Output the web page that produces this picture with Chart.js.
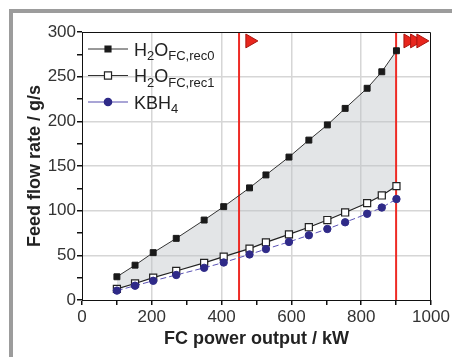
<!DOCTYPE html>
<html>
<head>
<meta charset="utf-8">
<script src="https://cdn.jsdelivr.net/npm/chart.js@4.4.1/dist/chart.umd.min.js"></script>
<style>
  html, body { margin: 0; padding: 0; background: #fff; }
  #wrap { position: relative; width: 452px; height: 357px; overflow: hidden; }
  #frame { position: absolute; left: 9px; top: 9px; width: 460px; height: 400px;
           border-left: 4px solid #9c9c9c; border-top: 4px solid #9c9c9c; }
  canvas { position: absolute; left: 0; top: 0; }
</style>
</head>
<body>
<div id="wrap">
  <div id="frame"></div>
  <canvas id="flowChart" width="452" height="357"></canvas>
</div>
<script>
  // FC power output (kW)
  const power = [100, 152, 204, 270, 350, 406, 480, 527, 593, 650, 703, 754, 817, 859, 901];
  // feed flow rates (g/s)
  const h2oRec0 = [26, 39, 53, 69, 89.5, 104.5, 125.5, 140, 160, 179, 196, 214.5, 237, 255.5, 279];
  const h2oRec1 = [12.5, 18.5, 25, 32.5, 41.5, 48.5, 57.5, 64.5, 73.5, 81.5, 89.5, 98, 108.5, 117, 127.5];
  const kbh4 = [10.5, 16, 21.5, 28, 36, 42, 51, 57, 65, 72.5, 79.5, 87, 96.5, 103.5, 113];

  const limitLines = [450, 900];
  const arrowsLeft = [481];
  const arrowsRight = [934, 953, 971];
  const arrowLevel = 290;

  const legendItems = [
    { parts: [['H', 0], ['2', 1], ['O', 0], ['FC,rec0', 1]], line: '#333', style: 'rect', fill: '#1a1a1a', edge: '#1a1a1a', r: 4.2 },
    { parts: [['H', 0], ['2', 1], ['O', 0], ['FC,rec1', 1]], line: '#333', style: 'rect', fill: '#fff', edge: '#222', r: 5 },
    { parts: [['KBH', 0], ['4', 1]], line: '#8d87c9', style: 'circle', fill: '#2f2a88', edge: '#2f2a88', r: 3.7 }
  ];

  const xy = (xs, ys) => xs.map((x, i) => ({ x: x, y: ys[i] }));

  const frameBox = {
    id: 'frameBox',
    afterDatasetsDraw(chart) {
      const a = chart.chartArea;
      const ctx = chart.ctx;
      ctx.save();
      ctx.strokeStyle = '#111';
      ctx.lineWidth = 1;
      ctx.beginPath();
      ctx.moveTo(a.left, a.top + 0.5);
      ctx.lineTo(a.right - 0.5, a.top + 0.5);
      ctx.lineTo(a.right - 0.5, a.bottom);
      ctx.stroke();
      ctx.restore();
    }
  };

  const subLegend = {
    id: 'subLegend',
    afterDraw(chart) {
      const ctx = chart.ctx;
      ctx.save();
      legendItems.forEach((item, i) => {
        const cy = 49 + i * 26.5;
        ctx.strokeStyle = item.line;
        ctx.lineWidth = item.style === 'circle' ? 1.5 : 1;
        ctx.beginPath();
        ctx.moveTo(88, cy);
        ctx.lineTo(128, cy);
        ctx.stroke();
        ctx.fillStyle = item.fill;
        ctx.strokeStyle = item.edge;
        ctx.lineWidth = 1.2;
        Chart.helpers.drawPoint(ctx, { pointStyle: item.style, radius: item.r, borderWidth: 1.2 }, 108, cy);
        ctx.fillStyle = '#222';
        ctx.textBaseline = 'alphabetic';
        let x = 134;
        const base = cy + 6.5;
        item.parts.forEach(p => {
          ctx.font = p[1] ? '13px "Liberation Sans", Arial, sans-serif' : '18px "Liberation Sans", Arial, sans-serif';
          ctx.fillText(p[0], x, p[1] ? base + 4.5 : base);
          x += ctx.measureText(p[0]).width;
        });
      });
      ctx.restore();
    }
  };

  const ctx = document.getElementById('flowChart').getContext('2d');
  new Chart(ctx, {
    type: 'line',
    data: {
      datasets: [{
        label: 'H2O FC,rec0',
        data: xy(power, h2oRec0),
        borderColor: '#333',
        borderWidth: 1,
        pointStyle: 'rect',
        pointRadius: 4.2,
        pointBackgroundColor: '#1a1a1a',
        pointBorderColor: '#1a1a1a',
        fill: { target: 1 },
        backgroundColor: 'rgba(188, 192, 198, 0.42)',
        order: 2
      }, {
        label: 'H2O FC,rec1',
        data: xy(power, h2oRec1),
        borderColor: '#222',
        borderWidth: 1.2,
        pointStyle: 'rect',
        pointRadius: 5,
        pointBackgroundColor: '#fff',
        pointBorderColor: '#222',
        pointBorderWidth: 1.2,
        fill: false,
        order: 1
      }, {
        label: 'KBH4',
        data: xy(power, kbh4),
        borderColor: '#5a52b4',
        borderWidth: 1,
        borderDash: [6, 3],
        pointStyle: 'circle',
        pointRadius: 3.7,
        pointBackgroundColor: '#2f2a88',
        pointBorderColor: '#2f2a88',
        fill: false,
        order: 0
      }, ...limitLines.map(v => ({
        label: 'limit',
        data: [{ x: v, y: 0 }, { x: v, y: 300 }],
        borderColor: '#ee2b25',
        borderWidth: 2,
        pointRadius: 0,
        fill: false,
        order: 3
      })), {
        label: 'arrows',
        data: arrowsLeft.concat(arrowsRight).map(v => ({ x: v, y: arrowLevel })),
        showLine: false,
        pointStyle: 'triangle',
        rotation: 90,
        pointRadius: 8,
        pointBackgroundColor: '#e8261d',
        pointBorderColor: '#a8140e',
        pointBorderWidth: 1,
        clip: false,
        order: 4
      }]
    },
    options: {
      responsive: false,
      animation: false,
      layout: { padding: { left: 24, right: 21, top: 32, bottom: 0 } },
      plugins: {
        legend: { display: false },
        tooltip: { enabled: false },
        filler: { drawTime: 'beforeDatasetsDraw' }
      },
      scales: {
        x: {
          type: 'linear',
          min: 0,
          max: 1000,
          afterFit: s => { s.height = 57; },
          ticks: {
            stepSize: 100,
            autoSkip: false,
            maxRotation: 0,
            padding: 2,
            color: '#333',
            font: { family: '"Liberation Sans", Arial, sans-serif', size: 17 },
            callback: v => (v % 200 === 0 ? v : '')
          },
          grid: {
            color: c => (c.tick && c.tick.value % 200 === 0 && c.tick.value > 0 && c.tick.value < 1000 ? '#d6d6d6' : 'rgba(0,0,0,0)'),
            lineWidth: 1.5,
            tickColor: '#111',
            tickLength: 5,
            drawTicks: true
          },
          border: { color: '#111', width: 1 },
          title: {
            display: true,
            text: 'FC power output / kW',
            color: '#222',
            font: { family: '"Liberation Sans", Arial, sans-serif', size: 18, weight: 'bold' },
            padding: { top: 0, bottom: 7 }
          }
        },
        y: {
          min: 0,
          max: 300,
          afterFit: s => { s.width = 58; },
          ticks: {
            stepSize: 25,
            autoSkip: false,
            padding: 1,
            color: '#333',
            font: { family: '"Liberation Sans", Arial, sans-serif', size: 17 },
            callback: v => (v % 50 === 0 ? v : '')
          },
          grid: {
            color: c => (c.tick && c.tick.value % 50 === 0 && c.tick.value > 0 && c.tick.value < 300 ? '#d6d6d6' : 'rgba(0,0,0,0)'),
            lineWidth: 1.5,
            tickColor: '#111',
            tickLength: 5
          },
          border: { color: '#111', width: 1 },
          title: {
            display: true,
            text: 'Feed flow rate / g/s',
            color: '#222',
            font: { family: '"Liberation Sans", Arial, sans-serif', size: 18, weight: 'bold' },
            padding: 0
          }
        }
      }
    },
    plugins: [frameBox, subLegend]
  });
</script>
</body>
</html>
